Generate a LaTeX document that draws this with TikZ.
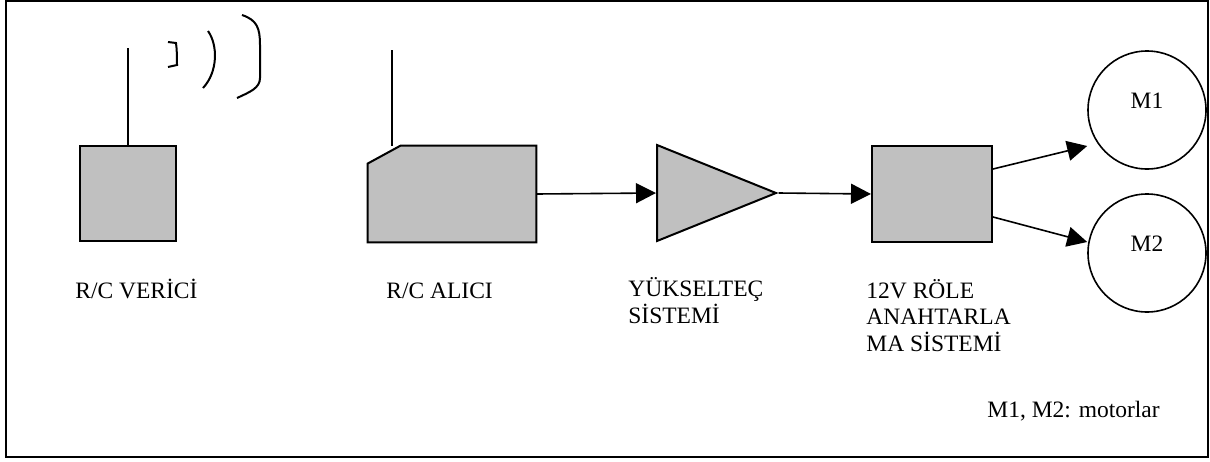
\documentclass[tikz,border=0pt]{standalone}
\usepackage{fontspec}
\setmainfont{Liberation Serif}
\usetikzlibrary{positioning}
\usetikzlibrary{arrows.meta,shapes.geometric}
\definecolor{blockgray}{RGB}{192,192,192}

\begin{document}
\begin{tikzpicture}[
            x=0.5pt, y=-0.5pt,
            graybox/.style={rectangle, draw=black, fill=blockgray, line width=1pt, inner sep=0pt},
            motor/.style={circle, draw=black, line width=0.8pt, minimum size=59pt, inner sep=0pt, text depth=9pt},
            caption/.style={anchor=base west, inner sep=0pt, align=left},
            signal/.style={-{Triangle[length=10pt, width=10pt]}, line width=0.8pt},
            font=\fontsize{11.75pt}{13.25pt}\selectfont,
        ]
            \useasboundingbox (0,0) rectangle (1210,461);
            % Frame
            \draw[line width=1.3pt] (6,1) rectangle (1208,457);

            % Nodes
            \node[graybox, minimum width=48pt, minimum height=47.5pt] (verici) at (128,193.5) {};
            \node[rectangle, inner sep=0pt, minimum width=84pt, minimum height=48pt] (alici) at (452,194) {};
            \node[graybox, isosceles triangle, isosceles triangle stretches, shape border rotate=0,
                  minimum width=48pt, minimum height=59.5pt, anchor=west] (yukseltec) at (656,193) {};
            \node[graybox, minimum width=60pt, minimum height=48pt] (role) at (932,194) {};
            \node[motor] (m1) at (1147,110) {M1};
            \node[motor] (m2) at (1147,253) {M2};

            % receiver body with the cut corner
            \filldraw[fill=blockgray, line width=1pt] ([yshift=-9pt]alici.north west) -- ([xshift=16.5pt]alici.north west)
                -- (alici.north east) -- (alici.south east) -- (alici.south west) -- cycle;

            % Antennas and waves
            \coordinate (alicianten) at (392,50);
            \draw[line width=0.75pt] (verici.north) -- ++(0,-97);
            \draw[line width=0.75pt] (alicianten) -- (alicianten |- alici.north);
            \draw[line width=1pt] (168,42) -- (176,43) .. controls (177,50) and (177,58) .. (177,65) -- (168,67);
            \draw[line width=1pt] (208,31) .. controls (218,45) and (218,72) .. (203,88);
            \draw[line width=1pt] (242,15) .. controls (257,20) and (260,28) .. (260,45) -- (260,78)
                .. controls (260,88) and (250,92) .. (237,98);

            % Labels
            \node[caption] (vericiyazi) at (75,298) {R/C VERİCİ};
            \node[caption] (aliciyazi) at (386,298) {R/C ALICI};
            \node[caption] (yukselteyazi) at (628,323) {YÜKSELTEÇ\\SİSTEMİ};
            \node[caption] (roleyazi) at (866,351) {12V RÖLE\\ANAHTARLA\\MA SİSTEMİ};
            \node[caption] (motornot) at (987,417) {M1, M2: motorlar};

            % Lines
            \draw[signal] (alici.east) -- (yukseltec.west);
            \draw[signal] (yukseltec.apex) -- (role.west);
            \draw[signal] ([yshift=12.5pt]role.east) -- ([yshift=-18pt]m1.west);
            \draw[signal] ([yshift=-11.5pt]role.east) -- ([yshift=5.5pt]m2.west);
        \end{tikzpicture}
\end{document}
